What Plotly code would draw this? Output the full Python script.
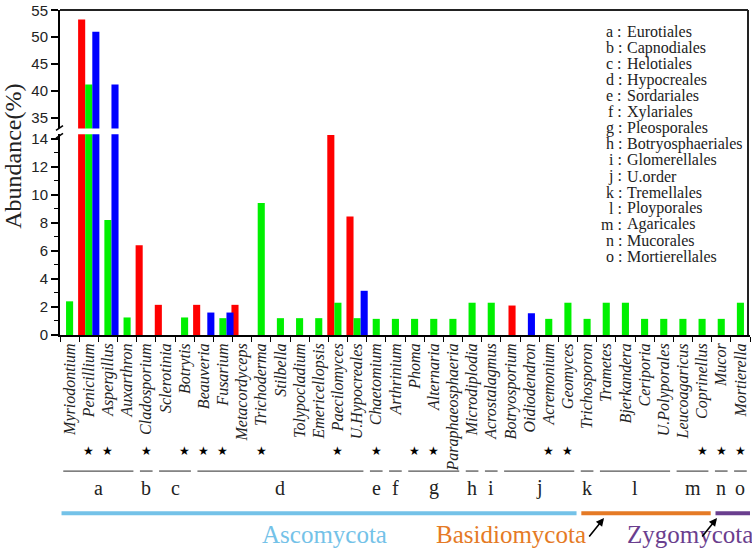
import plotly.graph_objects as go

# ---------------- data ----------------
genera = ["Myriodontium", "Penicillium", "Aspergillus", "Auxarthron", "Cladosporium",
          "Sclerotinia", "Botrytis", "Beauveria", "Fusarium", "Metacordyceps",
          "Trichoderma", "Stilbella", "Tolypocladium", "Emericellopsis", "Paecilomyces",
          "U.Hypocreales", "Chaetomium", "Arthrinium", "Phoma", "Alternaria",
          "Paraphaeosphaeria", "Microdiplodia", "Acrostalagmus", "Botryosporium",
          "Oidiodendron", "Acremonium", "Geomyces", "Trichosporon", "Trametes",
          "Bjerkandera", "Ceriporia", "U.Polyporales", "Leucoagaricus", "Coprinellus",
          "Mucor", "Mortierella"]

red_vals = [None, 53.3, None, None, 6.4, 2.15, None, 2.15, None, 2.15,
            None, None, None, None, 14.25, 8.45, None, None, None, None,
            None, None, None, 2.1, None, None, None, None, None, None,
            None, None, None, None, None, None]
green_vals = [2.4, 41.2, 8.2, 1.25, None, None, 1.25, None, 1.2, None,
              9.4, 1.2, 1.2, 1.2, 2.3, 1.2, 1.15, 1.15, 1.15, 1.15,
              1.15, 2.3, 2.3, None, None, 1.15, 2.3, 1.15, 2.3, 2.3,
              1.15, 1.15, 1.15, 1.15, 1.15, 2.3]
blue_vals = [None, 51.0, 41.2, None, None, None, None, 1.6, 1.6, None,
             None, None, None, None, None, 3.15, None, None, None, None,
             None, None, None, None, 1.55, None, None, None, None, None,
             None, None, None, None, None, None]

starred = ["Penicillium", "Aspergillus", "Cladosporium", "Botrytis", "Beauveria",
           "Fusarium", "Trichoderma", "Paecilomyces", "Chaetomium", "Phoma",
           "Alternaria", "Acremonium", "Geomyces", "Coprinellus", "Mucor", "Mortierella"]

group_letters = ["a", "b", "c", "d", "e", "f", "g", "h", "i", "j", "k", "l", "m", "n", "o"]
group_sizes = [4, 1, 2, 9, 1, 1, 3, 1, 1, 4, 1, 4, 2, 1, 1]
order_names = ["Eurotiales", "Capnodiales", "Helotiales", "Hypocreales", "Sordariales",
               "Xylariales", "Pleosporales", "Botryosphaeriales", "Glomerellales",
               "U.order", "Tremellales", "Ployporales", "Agaricales", "Mucorales",
               "Mortierellales"]

phyla = ["Ascomycota", "Basidiomycota", "Zygomycota"]
phylum_groups = [10, 3, 2]   # number of order groups per phylum
phylum_colors = ["#74C2E8", "#E57A25", "#6A3E8E"]

# ---------------- geometry helpers ----------------
W, H = 752, 550
ML, MR, MT, MB = 60, 2, 3, 215
PW, PH = W - ML - MR, H - MT - MB
BOTTOM = H - MB


def px(p):
    return (p - ML) / PW


def py(p):
    return (BOTTOM - p) / PH


low_dom = [0, py(130)]
up_dom = [py(124), 1]

fig = go.Figure()

n = len(genera)
bw = 0.37
red_off = [-0.555] * n
red_off[genera.index("Botryosporium")] = -0.1
green_off = [-0.185] * n
blue_off = [0.185] * n
blue_off[genera.index("Oidiodendron")] = -0.09

for vals, col, off in [(red_vals, "#FF0000", red_off),
                       (green_vals, "#00F000", green_off),
                       (blue_vals, "#0000FF", blue_off)]:
    for ya in ["y", "y2"]:
        fig.add_trace(go.Bar(x=genera, y=vals, yaxis=ya, xaxis="x",
                             width=[bw] * n, offset=off,
                             marker=dict(color=col, line=dict(width=0)),
                             showlegend=False))

axis_common = dict(showline=True, linecolor="black", linewidth=2, ticks="outside",
                   tickcolor="black", tickwidth=1.5, showgrid=False, zeroline=False,
                   ticklabeloverflow="allow",
                   tickfont=dict(family="Liberation Sans", size=15, color="#222"))

fig.update_layout(
    width=W, height=H,
    margin=dict(l=ML, r=MR, t=MT, b=MB),
    paper_bgcolor="white", plot_bgcolor="white",
    barmode="overlay",
    xaxis=dict(type="category", categoryorder="array", categoryarray=genera,
               range=[-0.5, n - 0.5], domain=[0, 1], anchor="y",
               showline=True, linecolor="black", linewidth=2,
               ticks="outside", tickson="boundaries", ticklen=5,
               tickcolor="black", tickwidth=1,
               tickangle=-90, showgrid=False,
               tickfont=dict(family="Liberation Serif", size=16, style="italic",
                             color="#222")),
    yaxis=dict(domain=low_dom, range=[0, 14.3], tickvals=list(range(0, 15, 2)),
               ticklen=7, anchor="x",
               minor=dict(dtick=1, ticks="outside", ticklen=4, tickcolor="black",
                          tickwidth=1.2, showgrid=False),
               **axis_common),
    yaxis2=dict(domain=up_dom, range=[33, 55.05], tickvals=list(range(35, 56, 5)),
                ticklen=7, anchor="x", **axis_common),
)

shapes = []
# frame top and right
shapes.append(dict(type="line", xref="paper", yref="paper", x0=0, x1=px(748),
                   y0=1, y1=1, line=dict(color="#222", width=2)))
shapes.append(dict(type="line", xref="paper", yref="paper", x0=px(748), x1=px(748),
                   y0=0, y1=1, line=dict(color="#222", width=2)))
# break marks on the left axis
for yb in (124, 132):
    shapes.append(dict(type="line", xref="paper", yref="paper",
                       x0=px(56), x1=px(63), y0=py(yb + 2), y1=py(yb - 3),
                       line=dict(color="black", width=1.5)))

annotations = []
# y title
annotations.append(dict(text="Abundance(%)", xref="paper", yref="paper",
                        x=px(13), y=py(153), textangle=-90, showarrow=False,
                        xanchor="center", yanchor="middle",
                        font=dict(family="Liberation Serif", size=24, color="#222")))

# legend of orders
for i, (lt, nm) in enumerate(zip(group_letters, order_names)):
    yy = py(25 + 16.4 * i)
    annotations.append(dict(text=f"{lt} :", xref="paper", yref="paper", x=px(623), y=yy,
                            xanchor="right", yanchor="middle", showarrow=False, borderpad=0,
                            font=dict(family="Liberation Serif", size=16, color="#222")))
    annotations.append(dict(text=nm, xref="paper", yref="paper", x=px(626), y=yy,
                            xanchor="left", yanchor="middle", showarrow=False, borderpad=0,
                            font=dict(family="Liberation Serif", size=16, color="#222")))

# stars
for g in starred:
    annotations.append(dict(text="★", xref="x", yref="paper", x=genera.index(g),
                            y=py(453), showarrow=False, xanchor="center", yanchor="middle",
                            font=dict(family="DejaVu Sans", size=12, color="black")))

# order group lines + letters
start = 0
group_bounds = []
for lt, sz in zip(group_letters, group_sizes):
    s, e = start, start + sz - 1
    group_bounds.append((s, e))
    shapes.append(dict(type="line", xref="x", yref="paper", x0=s - 0.33, x1=e + 0.33,
                       y0=py(474), y1=py(474), line=dict(color="#555", width=1.3)))
    annotations.append(dict(text=lt, xref="x", yref="paper", x=(s + e) / 2, y=py(491),
                            showarrow=False, xanchor="center", yanchor="middle",
                            font=dict(family="Liberation Serif", size=20, color="#222")))
    start += sz

# phylum lines and labels
gi = 0
phylum_label_x = [324, 511, 690]
for k, (ph, ng, col) in enumerate(zip(phyla, phylum_groups, phylum_colors)):
    s = group_bounds[gi][0]
    e = group_bounds[gi + ng - 1][1]
    x0 = s - 0.42 if k == 0 else s - 0.3
    x1 = e + 0.45 if k < 2 else e + 0.5
    shapes.append(dict(type="line", xref="x", yref="paper", x0=x0, x1=x1,
                       y0=py(517), y1=py(517), line=dict(color=col, width=4)))
    annotations.append(dict(text=ph, xref="paper", yref="paper", x=px(phylum_label_x[k]),
                            y=py(539), showarrow=False, xanchor="center", yanchor="middle",
                            font=dict(family="Liberation Serif", size=25, color=col)))
    gi += ng

# arrows
for tipx in (604, 717):
    annotations.append(dict(text="", xref="paper", yref="paper", x=px(tipx), y=py(522),
                            ax=-16, ay=20, showarrow=True, arrowhead=2, arrowsize=1,
                            arrowwidth=1.6, arrowcolor="black"))

fig.update_layout(shapes=shapes, annotations=annotations)
fig.write_html("out.html", config={"displayModeBar": False},
               post_script="document.body.style.margin='0';document.body.style.padding='0';"
                           "document.documentElement.style.overflow='hidden';")
